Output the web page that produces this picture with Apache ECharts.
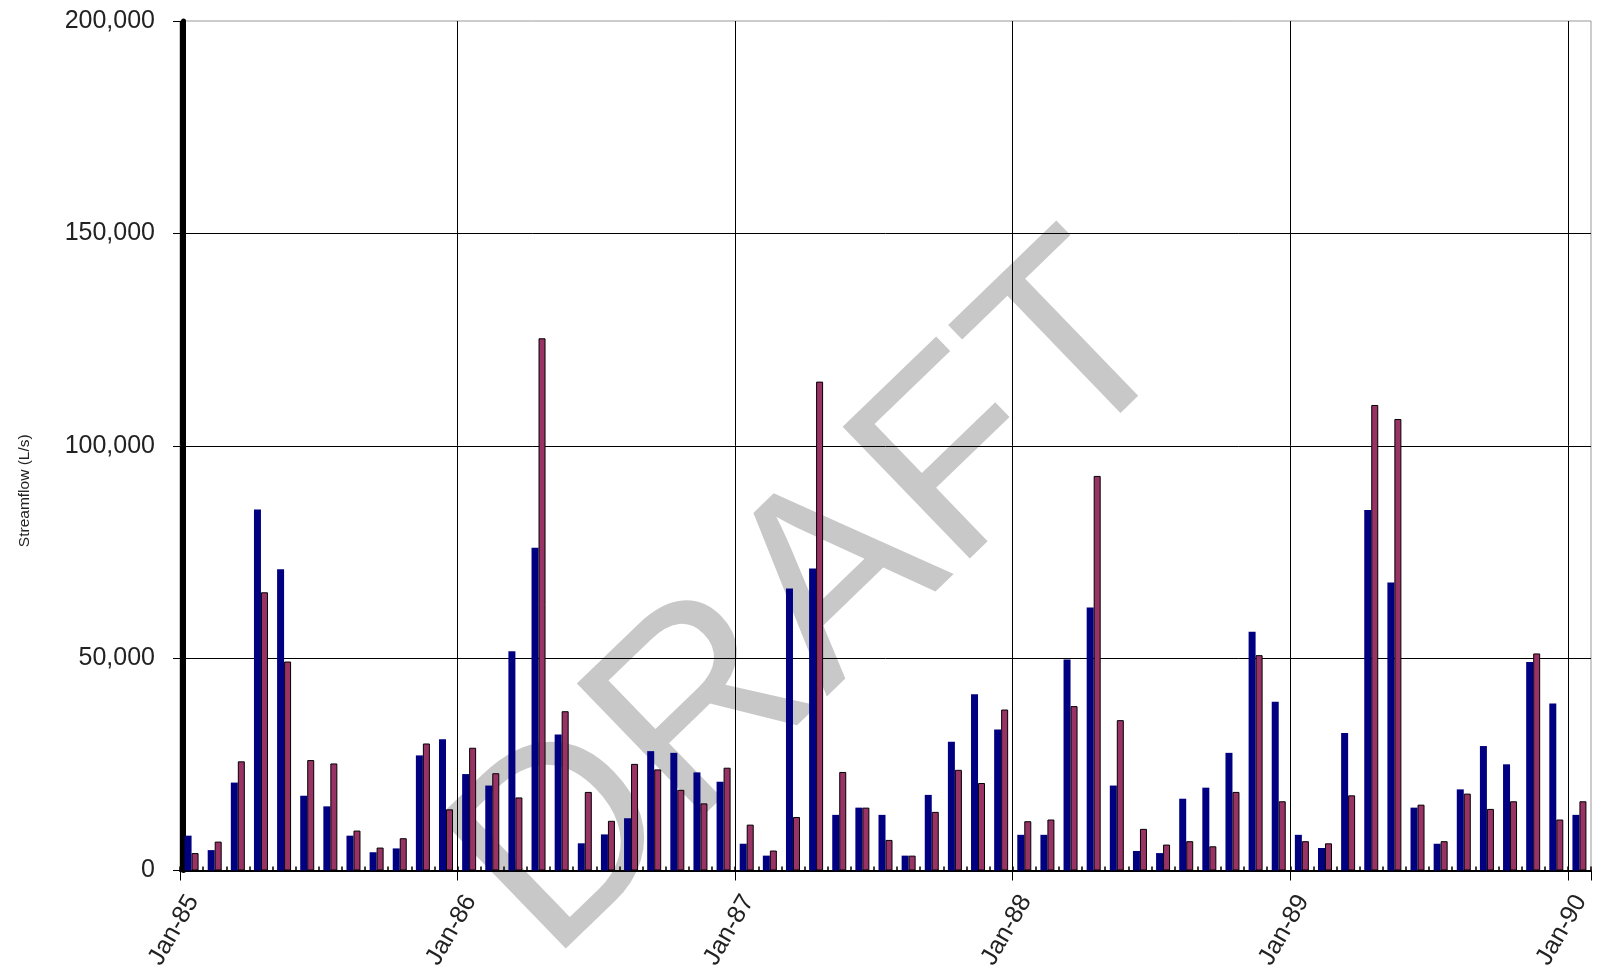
<!DOCTYPE html>
<html>
<head>
<meta charset="utf-8">
<title>Streamflow</title>
<script src="https://cdn.jsdelivr.net/npm/echarts@6/dist/echarts.min.js"></script>
<style>
  html, body { margin: 0; padding: 0; background: #fff; }
  #chart { width: 1602px; height: 974px; }
</style>
</head>
<body>
<div id="chart"></div>
<script>
// monthly categories, Jan-85 .. Jan-90
const months = [
  'Jan-85', 'Feb-85', 'Mar-85', 'Apr-85', 'May-85', 'Jun-85', 'Jul-85', 'Aug-85', 'Sep-85', 'Oct-85', 'Nov-85', 'Dec-85',
  'Jan-86', 'Feb-86', 'Mar-86', 'Apr-86', 'May-86', 'Jun-86', 'Jul-86', 'Aug-86', 'Sep-86', 'Oct-86', 'Nov-86', 'Dec-86',
  'Jan-87', 'Feb-87', 'Mar-87', 'Apr-87', 'May-87', 'Jun-87', 'Jul-87', 'Aug-87', 'Sep-87', 'Oct-87', 'Nov-87', 'Dec-87',
  'Jan-88', 'Feb-88', 'Mar-88', 'Apr-88', 'May-88', 'Jun-88', 'Jul-88', 'Aug-88', 'Sep-88', 'Oct-88', 'Nov-88', 'Dec-88',
  'Jan-89', 'Feb-89', 'Mar-89', 'Apr-89', 'May-89', 'Jun-89', 'Jul-89', 'Aug-89', 'Sep-89', 'Oct-89', 'Nov-89', 'Dec-89',
  'Jan-90'
];

// labels shown on the x axis (every 12 months)
const yearTicks = ['Jan-85', 'Jan-86', 'Jan-87', 'Jan-88', 'Jan-89', 'Jan-90'];

// streamflow, L/s (blue series)
const series1 = [
  8200, 4800, 20700, 85000, 70900, 17600, 15100, 8200, 4300, 5200, 27100, 30900,
  22700, 20000, 51600, 76000, 32000, 6400, 8500, 12300, 28100, 27700, 23100, 20900,
  6300, 3500, 66400, 71100, 13100, 14800, 13100, 3500, 17800, 30300, 41500, 33200,
  8400, 8400, 49700, 61900, 20000, 4600, 4100, 16900, 19500, 27700, 56200, 39700,
  8400, 5300, 32400, 84900, 67800, 14800, 6300, 19100, 29300, 25000, 49100, 39300,
  13100
];

// streamflow, L/s (plum series)
const series2 = [
  4100, 6800, 25700, 65500, 49200, 26000, 25200, 9400, 5400, 7600, 29900, 14400,
  28900, 22900, 17200, 125300, 37500, 18500, 11700, 25100, 23800, 19000, 15800, 24200,
  10800, 4700, 12600, 115100, 23200, 14800, 7200, 3500, 13800, 23700, 20600, 37900,
  11600, 12000, 38700, 92900, 35400, 9800, 6100, 6900, 5700, 18500, 50700, 16300,
  6900, 6400, 17700, 109600, 106300, 15500, 6900, 18100, 14500, 16300, 51100, 12000,
  16300
];

const yMax = 200000;
const yStep = 50000;

const chart = echarts.init(document.getElementById('chart'));

const textColor = '#222';
const labelFont = '"Liberation Sans", Arial, sans-serif';

chart.setOption({
  animation: false,
  backgroundColor: '#fff',
  grid: {
    left: 180,
    right: 11,
    top: 21,
    bottom: 103.5,
    show: true,
    borderColor: '#999',
    borderWidth: 1,
    outerBoundsMode: 'none'
  },
  // watermark, behind everything
  graphic: [{
    type: 'text',
    z: -10,
    silent: true,
    x: 818,
    y: 603,
    rotation: 44 * Math.PI / 180,
    style: {
      text: 'DRAFT',
      font: '266px "Liberation Sans", Arial, sans-serif',
      fill: '#c8c8c8',
      align: 'center',
      verticalAlign: 'middle',
      textAlign: 'center',
      textVerticalAlign: 'middle'
    }
  }],
  xAxis: [
    {
      // bars live on this one
      type: 'category',
      data: months,
      boundaryGap: true,
      position: 'bottom',
      axisLine: { show: true, lineStyle: { color: '#000', width: 2 } },
      axisTick: { show: true, inside: true, length: 4, interval: 0, lineStyle: { color: '#000', width: 1.5 } },
      axisLabel: { show: false },
      splitLine: { show: false }
    },
    {
      // yearly gridlines and labels
      type: 'value',
      min: 0,
      max: months.length,
      interval: 12,
      position: 'bottom',
      axisLine: { show: false },
      axisTick: { show: true, length: 10, lineStyle: { color: '#000', width: 1 } },
      axisLabel: {
        rotate: 60,
        align: 'right',
        verticalAlign: 'top',
        lineHeight: 30,
        margin: 19,
        fontSize: 25,
        fontFamily: labelFont,
        color: textColor,
        formatter: function (v) {
          return v % 12 === 0 ? (yearTicks[v / 12] || '') : '';
        }
      },
      splitLine: { show: true, showMaxLine: false, lineStyle: { color: '#000', width: 1 } }
    }
  ],
  yAxis: {
    type: 'value',
    min: 0,
    max: yMax,
    interval: yStep,
    offset: -3,
    name: 'Streamflow (L/s)',
    nameLocation: 'middle',
    nameRotate: 90,
    nameGap: 150,
    nameTextStyle: {
      fontSize: 15.5,
      fontFamily: labelFont,
      color: textColor,
      padding: [0, 90, 0, 0]
    },
    axisLine: { show: true, lineStyle: { color: '#000', width: 5 } },
    axisTick: { show: true, length: 10, lineStyle: { color: '#000', width: 1 } },
    axisLabel: {
      margin: 28,
      fontSize: 25,
      fontFamily: labelFont,
      color: textColor,
      formatter: function (v) { return v.toLocaleString('en-US'); }
    },
    splitLine: { show: true, showMinLine: false, showMaxLine: false, lineStyle: { color: '#000', width: 1 } }
  },
  series: [
    {
      name: 'Series1',
      type: 'bar',
      data: series1,
      barWidth: 7,
      barGap: '0%',
      itemStyle: { color: '#000080' }
    },
    {
      name: 'Series2',
      type: 'bar',
      data: series2,
      barWidth: 7,
      itemStyle: { color: '#993366', borderColor: '#000', borderWidth: 1 }
    }
  ]
});
</script>
</body>
</html>
